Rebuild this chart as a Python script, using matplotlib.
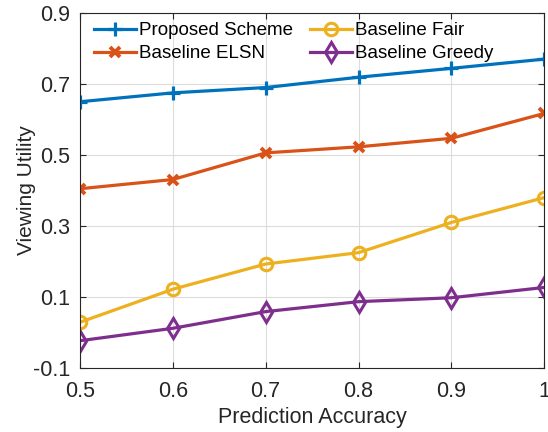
import matplotlib
matplotlib.use("Agg")
import matplotlib.pyplot as plt

accuracy = [0.5, 0.6, 0.7, 0.8, 0.9, 1.0]
proposed = [0.650, 0.675, 0.690, 0.719, 0.744, 0.770]
elsn = [0.405, 0.431, 0.506, 0.523, 0.547, 0.617]
fair = [0.029, 0.122, 0.193, 0.225, 0.310, 0.380]
greedy = [-0.023, 0.012, 0.059, 0.087, 0.098, 0.127]
xticks = [0.5, 0.6, 0.7, 0.8, 0.9, 1.0]
xticklabels = ["0.5", "0.6", "0.7", "0.8", "0.9", "1"]
yticks = [-0.1, 0.1, 0.3, 0.5, 0.7, 0.9]
yticklabels = ["-0.1", "0.1", "0.3", "0.5", "0.7", "0.9"]

plt.rcParams['font.family'] = ['Liberation Sans', 'DejaVu Sans']
fig = plt.figure(figsize=(5.48, 4.32), dpi=100)
ax = fig.add_axes([0.146, 0.148, 0.847, 0.822])

lw = 2.3
ax.plot(accuracy, proposed, color=(0, 0.447, 0.741), lw=lw, marker='+', ms=10, mew=2.3, label='Proposed Scheme')
ax.plot(accuracy, elsn, color=(0.85, 0.325, 0.098), lw=lw, marker='x', ms=7, mew=2.8, label='Baseline ELSN')
ax.plot(accuracy, fair, color=(0.929, 0.694, 0.125), lw=lw, marker='o', ms=9, mew=2.2, mfc='none', label='Baseline Fair')
ax.plot(accuracy, greedy, color=(0.494, 0.184, 0.556), lw=lw, marker='d', ms=10, mew=2.2, mfc='none', label='Baseline Greedy')

ax.set_xlim(0.5, 1.0)
ax.set_ylim(-0.1, 0.9)
ax.set_xticks(xticks)
ax.set_xticklabels(xticklabels)
ax.set_yticks(yticks)
ax.set_yticklabels(yticklabels)
ax.tick_params(direction='in', labelsize=15.5, colors='#262626', length=4, top=True, right=True,
               labelcolor='#262626')
ax.tick_params(axis='x', pad=9)
ax.tick_params(axis='y', pad=7)
ax.grid(True, color='#dcdcdc', lw=0.8)
ax.set_axisbelow(True)
for s in ax.spines.values():
    s.set_color('#262626')
    s.set_linewidth(0.8)
ax.set_xlabel('Prediction Accuracy', fontsize=15.5, color='#262626', labelpad=4)
ax.set_ylabel('Viewing Utility', fontsize=15, color='#262626', labelpad=-2)

ax.legend(loc='upper left', ncol=2, frameon=False, fontsize=13.5, handlelength=2.2,
          handletextpad=0.2, columnspacing=0.9, labelspacing=0.3,
          borderaxespad=0.0, bbox_to_anchor=(0.015, 0.995))

fig.savefig('out.png', dpi=100)
